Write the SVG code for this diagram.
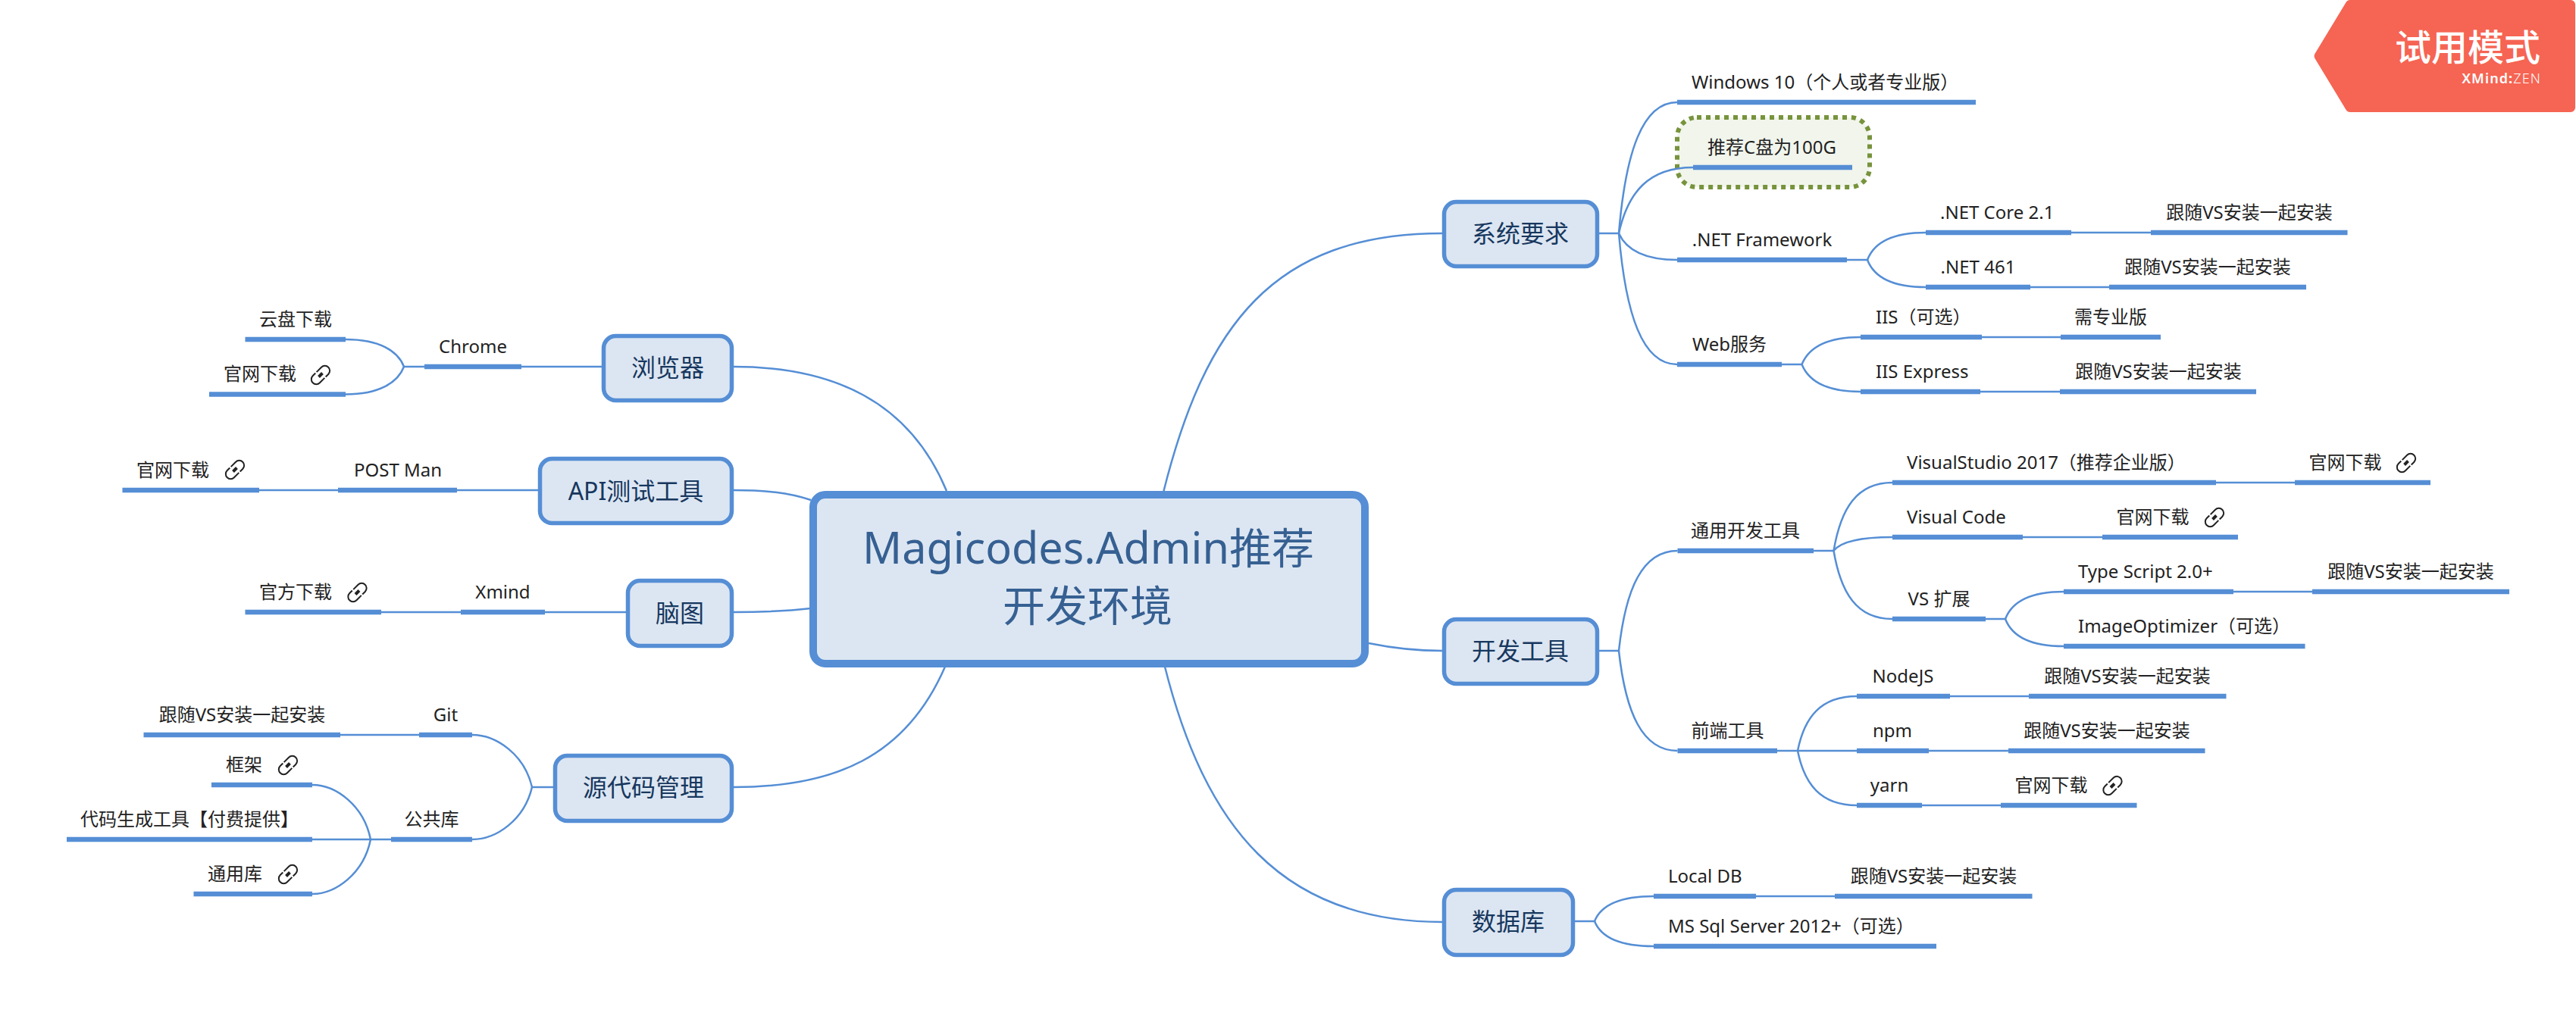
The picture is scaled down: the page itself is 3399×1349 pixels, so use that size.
<svg xmlns="http://www.w3.org/2000/svg" width="3399" height="1349" viewBox="0 0 3399 1349">
<style>
text{font-family:"Noto Sans","Noto Sans CJK SC",sans-serif}
.t{font-size:24px;fill:#222;text-anchor:middle}
.s{font-size:24px;fill:#222}
.h{font-size:32px;fill:#17375e;text-anchor:middle}
.c{font-size:56px;fill:#366092;text-anchor:middle}
.b{stroke:#558ed5;stroke-width:6.5;fill:none}
.k{stroke:#558ed5;stroke-width:2.5;fill:none}
.n{fill:#dce6f2;stroke:#558ed5;stroke-width:5.5}
</style>
<defs>
<g id="link" fill="none" stroke="#222" stroke-width="2">
<g transform="rotate(-45)">
<path d="M1,6.5H-8A6.5,6.5 0 0 1 -8,-6.5H-3"/>
<path d="M-1,-6.5H8A6.5,6.5 0 0 1 8,6.5H3"/>
<path d="M-3.5,0H3.5" stroke-width="4"/>
</g>
</g>
</defs>
<rect width="3399" height="1349" fill="#fff"/>

<g id="node-cdrive">
<rect x="2213" y="155" width="254" height="92" rx="26" fill="#f1f5ec" stroke="#77933c" stroke-width="6" stroke-dasharray="6 6"/>
<text class="t" x="2338" y="203">推荐C盘为100G</text>
<line class="b" x1="2234" y1="221" x2="2444" y2="221"/>
</g>

<g id="connectors">
<path class="k" d="M1535,650C1590,430 1680,308 1903,308"/>
<path class="k" d="M1806,849C1840,856 1870,859 1903,859"/>
<path class="k" d="M1537,880C1590,1090 1690,1217 1903,1217"/>
<path class="k" d="M968,484C1100,484 1200,530 1249,648"/>
<path class="k" d="M968,647C1010,647 1040,650 1070,660"/>
<path class="k" d="M968,808C1005,808 1035,807 1070,803"/>
<path class="k" d="M968,1039C1100,1039 1195,1000 1247,880"/>

<path class="k" d="M2110,308H2136"/>
<path class="k" d="M2136,308C2145,201 2167,135 2213,135"/>
<path class="k" d="M2136,308C2148,254 2175,221 2234,221"/>
<path class="k" d="M2136,308C2146,330 2170,343 2213,343"/>
<path class="k" d="M2136,308C2145,415 2167,481 2213,481"/>
<path class="k" d="M2437,343H2464"/>
<path class="k" d="M2464,343C2472,322 2495,307 2541,307"/>
<path class="k" d="M2464,343C2472,364 2495,379 2541,379"/>
<path class="k" d="M2733,307H2838"/>
<path class="k" d="M2679,379H2783"/>
<path class="k" d="M2351,481H2377.500"/>
<path class="k" d="M2377.500,481C2386,460 2409,445 2455,445"/>
<path class="k" d="M2377.500,481C2386,502 2409,517 2455,517"/>
<path class="k" d="M2615,445H2719"/>
<path class="k" d="M2613,517H2718"/>

<path class="k" d="M2110,859H2136"/>
<path class="k" d="M2136,859C2145,777 2167,727 2213.500,727"/>
<path class="k" d="M2136,859C2145,941 2167,991 2213.500,991"/>
<path class="k" d="M2393,727H2419.500"/>
<path class="k" d="M2419.500,727C2429,671 2450,637 2497,637"/>
<path class="k" d="M2419.500,727C2428,716 2450,709 2497,709"/>
<path class="k" d="M2419.500,727C2429,783 2450,817 2497,817"/>
<path class="k" d="M2924,637H3028"/>
<path class="k" d="M2669,709H2774"/>
<path class="k" d="M2620,817H2646"/>
<path class="k" d="M2646,817C2654,796 2677,781 2723,781"/>
<path class="k" d="M2646,817C2654,838 2677,853 2723,853"/>
<path class="k" d="M2947,781H3051"/>
<path class="k" d="M2345,991H2450"/>
<path class="k" d="M2372,991C2381,946 2403,919 2450,919"/>
<path class="k" d="M2372,991C2381,1036 2403,1063 2450,1063"/>
<path class="k" d="M2573,919H2677"/>
<path class="k" d="M2545,991H2650"/>
<path class="k" d="M2536,1063H2640"/>

<path class="k" d="M2078,1216H2104"/>
<path class="k" d="M2104,1216C2112,1196 2135,1183 2182,1183"/>
<path class="k" d="M2104,1216C2112,1236 2135,1249 2182,1249"/>
<path class="k" d="M2317,1183H2421"/>

<path class="k" d="M794,484H688"/>
<path class="k" d="M560,484H533"/>
<path class="k" d="M533,484C525,463 500,448 456,448"/>
<path class="k" d="M533,484C525,505 500,520.500 456,520.500"/>
<path class="k" d="M710,647H603"/>
<path class="k" d="M446,647H342"/>
<path class="k" d="M826,808H719"/>
<path class="k" d="M608,808H503"/>
<path class="k" d="M730,1039H702"/>
<path class="k" d="M702,1039C692,996 655,970 623,970"/>
<path class="k" d="M702,1039C692,1082 655,1108 623,1108"/>
<path class="k" d="M553,970H449"/>
<path class="k" d="M516,1108H412"/>
<path class="k" d="M489,1108C480,1063 443,1036 412,1036"/>
<path class="k" d="M489,1108C480,1153 443,1180 412,1180"/>
</g>

<g id="node-root">
<rect x="1073" y="653" width="728" height="223" rx="16" fill="#dce6f2" stroke="#558ed5" stroke-width="10"/>
<text class="c" x="1436" y="744"><tspan font-size="57.5">Magicodes.Admin</tspan>推荐</text>
<text class="c" x="1435" y="820">开发环境</text>
</g>

<g id="node-browser"><rect class="n" x="796.500" y="443.500" width="169" height="85" rx="16"/><text class="h" x="881" y="497">浏览器</text></g>
<g id="node-api"><rect class="n" x="712.500" y="605.500" width="253" height="85" rx="16"/><text class="h" x="839" y="660">API测试工具</text></g>
<g id="node-mindmap"><rect class="n" x="828.500" y="766.500" width="137" height="86" rx="16"/><text class="h" x="897" y="821">脑图</text></g>
<g id="node-source"><rect class="n" x="732.500" y="997.500" width="233" height="86" rx="16"/><text class="h" x="849" y="1051">源代码管理</text></g>
<g id="node-system"><rect class="n" x="1905.500" y="266.500" width="202" height="85" rx="16"/><text class="h" x="2006" y="320">系统要求</text></g>
<g id="node-devtools"><rect class="n" x="1905.500" y="817.500" width="202" height="85" rx="16"/><text class="h" x="2006" y="871">开发工具</text></g>
<g id="node-database"><rect class="n" x="1905.500" y="1174.500" width="170" height="86" rx="16"/><text class="h" x="1990" y="1228">数据库</text></g>

<g id="node-cloud"><text class="t" x="390" y="430">云盘下载</text><line class="b" x1="323.500" y1="448" x2="456" y2="448"/></g>
<g id="node-chrome-site"><text class="s" x="295" y="502">官网下载</text><use href="#link" x="423" y="495"/><line class="b" x1="276" y1="520.500" x2="456" y2="520.500"/></g>
<g id="node-chrome"><text class="t" x="624" y="466">Chrome</text><line class="b" x1="560" y1="484" x2="688" y2="484"/></g>
<g id="node-postman-site"><text class="s" x="180" y="629">官网下载</text><use href="#link" x="310" y="620"/><line class="b" x1="161.500" y1="647" x2="342" y2="647"/></g>
<g id="node-postman"><text class="t" x="525" y="629">POST Man</text><line class="b" x1="446" y1="647" x2="603" y2="647"/></g>
<g id="node-xmind-site"><text class="s" x="342" y="790">官方下载</text><use href="#link" x="471.500" y="782"/><line class="b" x1="323.500" y1="808" x2="503" y2="808"/></g>
<g id="node-xmind"><text class="t" x="663.500" y="790">Xmind</text><line class="b" x1="608" y1="808" x2="719" y2="808"/></g>
<g id="node-git"><text class="t" x="588" y="952">Git</text><line class="b" x1="553" y1="970" x2="623" y2="970"/></g>
<g id="node-git-vs"><text class="t" x="319.500" y="952">跟随VS安装一起安装</text><line class="b" x1="189.500" y1="970" x2="449" y2="970"/></g>
<g id="node-lib"><text class="t" x="569.500" y="1090">公共库</text><line class="b" x1="516" y1="1108" x2="623" y2="1108"/></g>
<g id="node-framework"><text class="s" x="298" y="1018">框架</text><use href="#link" x="380" y="1010"/><line class="b" x1="279" y1="1036" x2="412" y2="1036"/></g>
<g id="node-codegen"><text class="t" x="250" y="1090">代码生成工具【付费提供】</text><line class="b" x1="88" y1="1108" x2="412" y2="1108"/></g>
<g id="node-commonlib"><text class="s" x="274" y="1162">通用库</text><use href="#link" x="380" y="1154"/><line class="b" x1="255.500" y1="1180" x2="412" y2="1180"/></g>

<g id="node-windows"><text class="s" x="2232" y="117">Windows 10（个人或者专业版）</text><line class="b" x1="2213" y1="135" x2="2607" y2="135"/></g>
<g id="node-dotnet"><text class="t" x="2325" y="325">.NET Framework</text><line class="b" x1="2213" y1="343" x2="2437" y2="343"/></g>
<g id="node-core"><text class="s" x="2560" y="289">.NET Core 2.1</text><line class="b" x1="2541" y1="307" x2="2733" y2="307"/></g>
<g id="node-core-vs"><text class="t" x="2968" y="289">跟随VS安装一起安装</text><line class="b" x1="2838" y1="307" x2="3097.500" y2="307"/></g>
<g id="node-net461"><text class="t" x="2610" y="361">.NET 461</text><line class="b" x1="2541" y1="379" x2="2679" y2="379"/></g>
<g id="node-net461-vs"><text class="t" x="2913" y="361">跟随VS安装一起安装</text><line class="b" x1="2783" y1="379" x2="3043" y2="379"/></g>
<g id="node-web"><text class="t" x="2282" y="463">Web服务</text><line class="b" x1="2213" y1="481" x2="2351" y2="481"/></g>
<g id="node-iis"><text class="s" x="2475" y="427">IIS（可选）</text><line class="b" x1="2455" y1="445" x2="2615" y2="445"/></g>
<g id="node-iis-pro"><text class="t" x="2785" y="427">需专业版</text><line class="b" x1="2719" y1="445" x2="2851" y2="445"/></g>
<g id="node-iisexpress"><text class="s" x="2475" y="499">IIS Express</text><line class="b" x1="2455" y1="517" x2="2613" y2="517"/></g>
<g id="node-iisexpress-vs"><text class="t" x="2848" y="499">跟随VS安装一起安装</text><line class="b" x1="2718" y1="517" x2="2977" y2="517"/></g>

<g id="node-general"><text class="t" x="2303" y="709">通用开发工具</text><line class="b" x1="2213.500" y1="727" x2="2393" y2="727"/></g>
<g id="node-vs2017"><text class="s" x="2516" y="619">VisualStudio 2017（推荐企业版）</text><line class="b" x1="2497" y1="637" x2="2924" y2="637"/></g>
<g id="node-vs2017-site"><text class="s" x="3046.500" y="619">官网下载</text><use href="#link" x="3175" y="611"/><line class="b" x1="3028" y1="637" x2="3207" y2="637"/></g>
<g id="node-vscode"><text class="s" x="2516" y="691">Visual Code</text><line class="b" x1="2497" y1="709" x2="2669" y2="709"/></g>
<g id="node-vscode-site"><text class="s" x="2792.500" y="691">官网下载</text><use href="#link" x="2922" y="683"/><line class="b" x1="2774" y1="709" x2="2953" y2="709"/></g>
<g id="node-vsext"><text class="t" x="2558.500" y="799">VS 扩展</text><line class="b" x1="2497" y1="817" x2="2620" y2="817"/></g>
<g id="node-ts"><text class="s" x="2742" y="763">Type Script 2.0+</text><line class="b" x1="2723" y1="781" x2="2947" y2="781"/></g>
<g id="node-ts-vs"><text class="t" x="3181" y="763">跟随VS安装一起安装</text><line class="b" x1="3051" y1="781" x2="3311" y2="781"/></g>
<g id="node-imgopt"><text class="s" x="2742" y="835">ImageOptimizer（可选）</text><line class="b" x1="2723" y1="853" x2="3041.500" y2="853"/></g>
<g id="node-frontend"><text class="t" x="2279.500" y="973">前端工具</text><line class="b" x1="2213.500" y1="991" x2="2345" y2="991"/></g>
<g id="node-nodejs"><text class="t" x="2511" y="901">NodeJS</text><line class="b" x1="2450" y1="919" x2="2573" y2="919"/></g>
<g id="node-nodejs-vs"><text class="t" x="2807" y="901">跟随VS安装一起安装</text><line class="b" x1="2677" y1="919" x2="2937.500" y2="919"/></g>
<g id="node-npm"><text class="t" x="2497" y="973">npm</text><line class="b" x1="2450" y1="991" x2="2545" y2="991"/></g>
<g id="node-npm-vs"><text class="t" x="2780" y="973">跟随VS安装一起安装</text><line class="b" x1="2650" y1="991" x2="2909.500" y2="991"/></g>
<g id="node-yarn"><text class="t" x="2493" y="1045">yarn</text><line class="b" x1="2450" y1="1063" x2="2536" y2="1063"/></g>
<g id="node-yarn-site"><text class="s" x="2658.500" y="1045">官网下载</text><use href="#link" x="2787.500" y="1037"/><line class="b" x1="2640" y1="1063" x2="2819.500" y2="1063"/></g>

<g id="node-localdb"><text class="s" x="2201" y="1165">Local DB</text><line class="b" x1="2182" y1="1183" x2="2317" y2="1183"/></g>
<g id="node-localdb-vs"><text class="t" x="2551.500" y="1165">跟随VS安装一起安装</text><line class="b" x1="2421" y1="1183" x2="2681.500" y2="1183"/></g>
<g id="node-mssql"><text class="s" x="2201" y="1231">MS Sql Server 2012+（可选）</text><line class="b" x1="2182" y1="1249" x2="2555" y2="1249"/></g>

<g id="badge">
<path d="M3101,0H3392A6,6 0 0 1 3398,6V142A6,6 0 0 1 3392,148H3101A7,7 0 0 1 3095,144L3055,78A7,7 0 0 1 3055,70L3095,4A7,7 0 0 1 3101,0Z" fill="#f66453"/>
<text x="3352" y="80" font-size="48" font-weight="500" fill="#fff" text-anchor="end">试用模式</text>
<text x="3353" y="110" font-size="18" fill="#fff" text-anchor="end" letter-spacing="1.100"><tspan font-weight="600">XMind</tspan><tspan font-weight="700">:</tspan><tspan font-weight="300">ZEN</tspan></text>
</g>
</svg>
